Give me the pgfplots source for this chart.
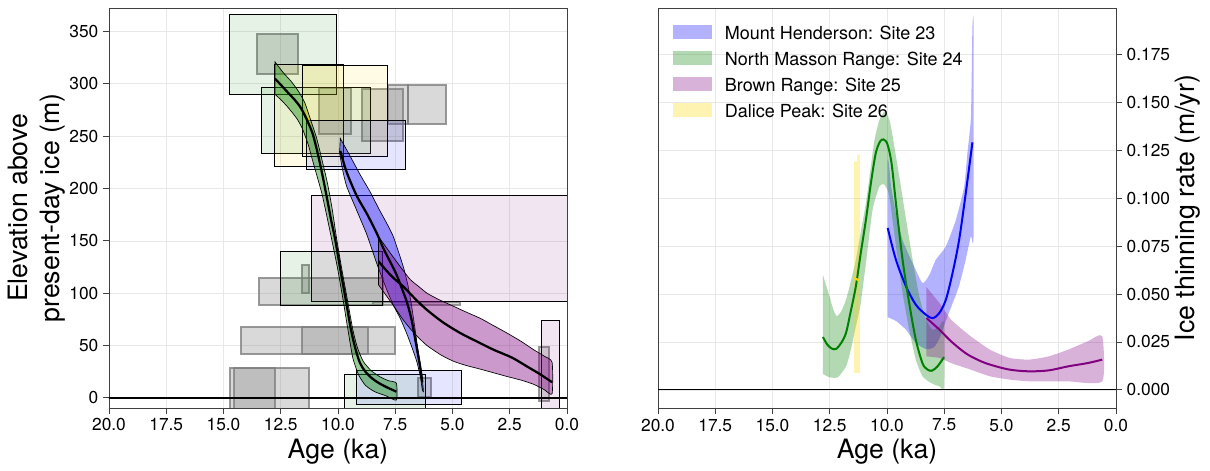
\documentclass[border=0pt]{standalone}
\usepackage{fontspec}
\setmainfont{TeX Gyre Heros}
\usepackage{pgfplots}
\pgfplotsset{compat=1.18}

% site colours
\definecolor{siteblue}{RGB}{0,0,255}
\definecolor{sitegreen}{RGB}{0,128,0}
\definecolor{sitepurple}{RGB}{128,0,128}
\definecolor{siteyellow}{RGB}{255,215,0}
\definecolor{sitegray}{RGB}{128,128,128}

% exposure-age box: style, older age, younger age, lower elevation, upper elevation
\newcommand{\agebox}[5]{%
  \addplot[#1] coordinates {(#2,#4) (#3,#4) (#3,#5) (#2,#5)} -- cycle;}

\pgfplotsset{
  panel/.style={
    scale only axis, width=343.5pt, height=300pt,
    xmin=0, xmax=20, x dir=reverse,
    xtick={0,2.5,5,7.5,10,12.5,15,17.5,20},
    xticklabel style={/pgf/number format/.cd, fixed, fixed zerofill, precision=1},
    scaled x ticks=false, scaled y ticks=false,
    xtick pos=left,
    tick align=outside, major tick length=4.5pt,
    tick style={black!75, line width=0.7pt},
    axis line style={black!75, line width=0.7pt},
    grid=major, grid style={black!9, line width=0.6pt},
    tick label style={font=\fontsize{13}{15}\selectfont},
    label style={font=\fontsize{20}{24}\selectfont},
    xlabel={Age (ka)},
    xlabel style={at={(axis description cs:0.5,-0.127)}, anchor=base},
    /pgf/number format/assume math mode=true,
  },
  graybox/.style={draw=sitegray, draw opacity=0.8, line width=1.5pt, fill=sitegray, fill opacity=0.3, forget plot},
  colbox/.style={draw=black, line width=0.7pt, fill=#1, fill opacity=0.1, forget plot},
  band/.style={draw=black, line width=0.5pt, fill=#1, fill opacity=0.4, forget plot, smooth, tension=0.35},
  mid/.style={black, line width=1.7pt, smooth, tension=0.5, forget plot},
  rateband/.style={draw=none, fill=#1, fill opacity=0.3, forget plot, smooth, tension=0.35},
  rateline/.style={#1, line width=1.5pt, smooth, tension=0.5, forget plot},
}

\begin{document}
\begin{tikzpicture}
\useasboundingbox (0,0) rectangle (907.5pt,353.25pt);

% ---------------- elevation against age ----------------
\begin{axis}[panel, at={(81.75pt,47.25pt)}, anchor=south west,
  ymin=-9.6, ymax=372.5, ytick={0,50,100,150,200,250,300,350}, ytick pos=left,
  ylabel={Elevation above\\present-day ice (m)},
  ylabel style={align=center, at={(axis description cs:-0.094,0.5)}, anchor=south, inner sep=0pt},
]
% samples not used in the fits
\agebox{graybox}{13.55}{11.73}{309}{348}
\agebox{graybox}{10.85}{9.44}{252}{296}
\agebox{graybox}{8.97}{7.14}{245}{295}
\agebox{graybox}{7.80}{6.93}{262}{299}
\agebox{graybox}{6.93}{5.30}{262}{299}
\agebox{graybox}{13.46}{8.04}{89}{115}
\agebox{graybox}{8.45}{4.66}{89}{92}
\agebox{graybox}{11.58}{11.25}{100}{127}
\agebox{graybox}{14.25}{8.67}{42}{68}
\agebox{graybox}{11.58}{7.50}{42}{68}
\agebox{graybox}{14.71}{11.26}{-20}{29}
\agebox{graybox}{14.54}{12.75}{-20}{29}
\agebox{graybox}{6.50}{5.93}{1}{19}
\agebox{graybox}{1.23}{0.78}{-3}{49}
% samples by site
\agebox{colbox=sitegreen}{14.74}{10.05}{290}{366}
\agebox{colbox=sitegreen}{13.36}{8.59}{234}{297}
\agebox{colbox=siteyellow}{12.78}{9.76}{221}{319}
\agebox{colbox=siteyellow}{11.57}{7.86}{231}{318}
\agebox{colbox=siteblue}{11.36}{7.05}{218}{265}
\agebox{colbox=sitepurple}{11.17}{-1}{92}{193}
\agebox{colbox=sitegreen}{12.51}{8.04}{88}{140}
\agebox{colbox=sitegreen}{9.73}{6.16}{-20}{22}
\agebox{colbox=siteblue}{9.19}{4.61}{-6}{26}
\agebox{colbox=sitepurple}{1.10}{0.34}{-20}{74}

% North Masson Range
\addplot[band=sitegreen] coordinates {
 (12.75,321) (12.4,311) (12.03,302) (11.7,292) (11.45,282) (11.2,266) (10.93,248)
 (10.64,222) (10.45,204) (10.25,180) (10.08,155) (9.85,125) (9.6,95) (9.35,65)
 (9.15,48) (8.9,35) (8.55,26) (8.15,20) (7.8,16.5) (7.45,14)
 (7.45,-2) (7.9,2) (8.4,6) (8.8,12) (9.1,22) (9.35,38) (9.55,63) (9.78,94)
 (10.02,124) (10.28,152) (10.5,175) (10.7,195) (10.93,213) (11.15,230) (11.3,242)
 (11.55,257) (11.8,267) (12.2,278) (12.5,285) (12.75,290)} -- cycle;
% Dalice Peak
\addplot[draw=none, fill=siteyellow, fill opacity=0.7, forget plot] coordinates {
 (11.5,283) (11.3,270) (11.12,255) (11.05,250) (11.18,257) (11.38,271)} -- cycle;
% Mount Henderson
\addplot[band=siteblue] coordinates {
 (9.9,248) (9.47,231) (9.0,212) (8.6,197) (8.2,180) (7.9,168) (7.6,155) (7.35,139)
 (7.13,124) (6.95,108) (6.8,90) (6.65,68) (6.52,48) (6.4,32) (6.3,14) (6.27,6)
 (6.32,8) (6.4,20) (6.55,34) (6.75,47) (6.99,61) (7.28,76) (7.57,88) (7.9,105)
 (8.3,128) (8.74,156) (9.18,179) (9.62,202) (9.8,218) (9.93,234)} -- cycle;
% Brown Range
\addplot[band=sitepurple] coordinates {
 (8.23,154) (7.9,144) (7.57,134) (7.2,123) (6.84,113) (6.45,106) (6.11,100) (5.6,94)
 (5.0,88) (4.4,82) (3.78,76) (3.2,69) (2.62,62) (2.0,54) (1.45,46) (1.0,40) (0.65,34)
 (0.65,4) (1.0,8) (1.45,13) (2.0,17) (2.62,20.5) (3.2,24) (3.78,27.5) (4.4,31)
 (4.95,35) (5.5,41) (6.11,50) (6.5,58) (6.84,66) (7.2,76) (7.57,88) (7.9,98) (8.23,108)} -- cycle;

\addplot[mid] coordinates {
 (12.75,305) (12.45,298) (12.2,292) (11.9,285) (11.65,278) (11.45,270) (11.3,263)
 (11.1,252) (10.9,235) (10.7,215) (10.5,193) (10.3,170) (10.12,151) (9.9,123)
 (9.67,95) (9.45,67) (9.25,48) (9.05,34) (8.8,25) (8.5,18.5) (8.2,14) (7.85,10) (7.45,6)};
\addplot[mid] coordinates {
 (9.9,236) (9.61,215) (9.18,193) (8.74,176) (8.3,157) (8.0,142) (7.72,130) (7.45,118)
 (7.2,104) (7.0,92) (6.8,76) (6.62,55) (6.48,38) (6.38,25) (6.32,15)};
\addplot[mid] coordinates {
 (8.23,130.5) (7.9,122) (7.6,115) (7.13,106) (6.6,94) (6.11,84) (5.4,72) (4.66,62)
 (3.9,53.5) (3.2,46) (2.4,38.5) (1.74,30) (1.2,23) (0.65,15)};

\addplot[black, line width=1.2pt, forget plot] coordinates {(21,0) (-1,0)};
\end{axis}

% ---------------- thinning rate against age ----------------
\begin{axis}[panel, at={(493.5pt,47.25pt)}, anchor=south west,
  ymin=-0.0094, ymax=0.199,
  ytick={0,0.025,0.05,0.075,0.1,0.125,0.15,0.175},
  ytick pos=right, yticklabel pos=right,
  yticklabel style={/pgf/number format/.cd, fixed, fixed zerofill, precision=3},
  ylabel={Ice thinning rate (m/yr)},
  ylabel style={at={(axis description cs:1.184,0.5)}, anchor=south, inner sep=0pt},
  legend image code/.code={\fill[#1, draw=none] (0pt,-0.3pt) rectangle (29pt,10.8pt);},
  legend style={at={(axis description cs:0.0327,0.959)}, anchor=north west,
    draw=none, fill=none, inner sep=0pt, row sep=5.7pt, column sep=9.75pt,
    font=\fontsize{13.5}{16}\selectfont,
    nodes={anchor=base west, inner sep=0pt, text height=10pt, text depth=3pt}},
]
\addlegendimage{fill=siteblue, fill opacity=0.3, draw=none}
\addlegendentry{Mount Henderson: Site 23}
\addlegendimage{fill=sitegreen, fill opacity=0.3, draw=none}
\addlegendentry{North Masson Range: Site 24}
\addlegendimage{fill=sitepurple, fill opacity=0.3, draw=none}
\addlegendentry{Brown Range: Site 25}
\addlegendimage{fill=siteyellow, fill opacity=0.3, draw=none}
\addlegendentry{Dalice Peak: Site 26}

% uncertainty envelopes
\addplot[rateband=siteblue] coordinates {
 (9.97,0.038) (9.97,0.119) (9.82,0.106) (9.61,0.092) (9.32,0.078) (8.88,0.066)
 (8.45,0.0557) (8.15,0.060) (7.87,0.0678) (7.43,0.0748) (6.99,0.0887) (6.63,0.106)
 (6.49,0.1234) (6.34,0.1408) (6.3,0.165) (6.27,0.189) (6.22,0.190) (6.22,0.081)
 (6.34,0.080) (6.6,0.066) (6.86,0.054) (7.14,0.045) (7.43,0.036) (7.7,0.027)
 (7.95,0.0222) (8.3,0.0213) (8.74,0.0244) (9.17,0.0314) (9.61,0.036)} -- cycle;
\addplot[rateband=sitegreen] coordinates {
 (12.8,0.0601) (12.65,0.054) (12.51,0.0488) (12.35,0.042) (12.19,0.0384) (12.0,0.041)
 (11.79,0.047) (11.55,0.058) (11.36,0.0679) (11.15,0.082) (10.92,0.0974) (10.72,0.115)
 (10.55,0.130) (10.33,0.1408) (10.1,0.145) (9.9,0.141) (9.75,0.132) (9.6,0.121)
 (9.46,0.111) (9.17,0.089) (8.88,0.0678) (8.59,0.0488) (8.3,0.0366) (8.01,0.0314)
 (7.72,0.033) (7.51,0.035) (7.51,0.0019) (7.72,0.0019) (8.09,0.0037) (8.45,0.0071)
 (8.74,0.0157) (9.03,0.0313) (9.32,0.0504) (9.61,0.0748) (9.9,0.101) (10.12,0.107)
 (10.33,0.1061) (10.63,0.0939) (10.92,0.0661) (11.15,0.045) (11.36,0.033) (11.6,0.020)
 (11.79,0.0122) (12.15,0.0066) (12.51,0.0066) (12.8,0.0083)} -- cycle;
\addplot[rateband=sitepurple] coordinates {
 (8.28,0.0536) (7.71,0.0453) (7.2,0.0366) (6.35,0.028) (5.5,0.021) (4.65,0.0167)
 (3.8,0.0158) (2.94,0.0175) (2.09,0.021) (1.24,0.0253) (0.6,0.028) (0.6,0.0045)
 (2.09,0.0045) (2.94,0.0045) (3.8,0.0045) (4.65,0.0054) (5.5,0.0071) (6.35,0.0106)
 (7.2,0.014) (7.71,0.0167) (8.28,0.0175)} -- cycle;
\addplot[draw=none, fill=siteyellow, fill opacity=0.3, forget plot] coordinates {
 (11.45,0.0089) (11.45,0.1191) (11.31,0.1191) (11.31,0.1226) (11.18,0.1226) (11.18,0.0089)} -- cycle;

% median rates
\addplot[rateline=siteblue] coordinates {
 (9.97,0.0844) (9.61,0.0678) (9.17,0.054) (8.74,0.0444) (8.3,0.0392) (8.01,0.0374)
 (7.72,0.040) (7.43,0.047) (7.14,0.0608) (6.85,0.0782) (6.56,0.1026) (6.27,0.129)};
\addplot[rateline=sitegreen] coordinates {
 (12.8,0.0276) (12.6,0.0235) (12.4,0.0215) (12.22,0.0214) (12.0,0.0245) (11.79,0.0297)
 (11.6,0.04) (11.36,0.054) (11.15,0.071) (10.92,0.0887) (10.7,0.108) (10.49,0.1234)
 (10.3,0.1295) (10.15,0.1305) (9.98,0.128) (9.8,0.118) (9.61,0.0973) (9.32,0.0678)
 (9.03,0.0452) (8.74,0.0261) (8.45,0.0139) (8.25,0.0108) (8.05,0.0100) (7.8,0.0122) (7.51,0.0171)};
\addplot[rateline=sitepurple] coordinates {
 (8.28,0.0375) (7.71,0.0314) (7.2,0.0253) (6.56,0.0191) (6.0,0.0155) (5.5,0.0132)
 (4.65,0.0106) (3.8,0.0097) (2.94,0.0102) (2.09,0.0123) (1.24,0.014) (0.6,0.0158)};
\addplot[rateline=siteyellow] coordinates {(11.42,0.0585) (11.3,0.0575) (11.2,0.0570)};

\addplot[black, line width=0.8pt, forget plot] coordinates {(21,0) (-1,0)};
\end{axis}
\end{tikzpicture}
\end{document}
